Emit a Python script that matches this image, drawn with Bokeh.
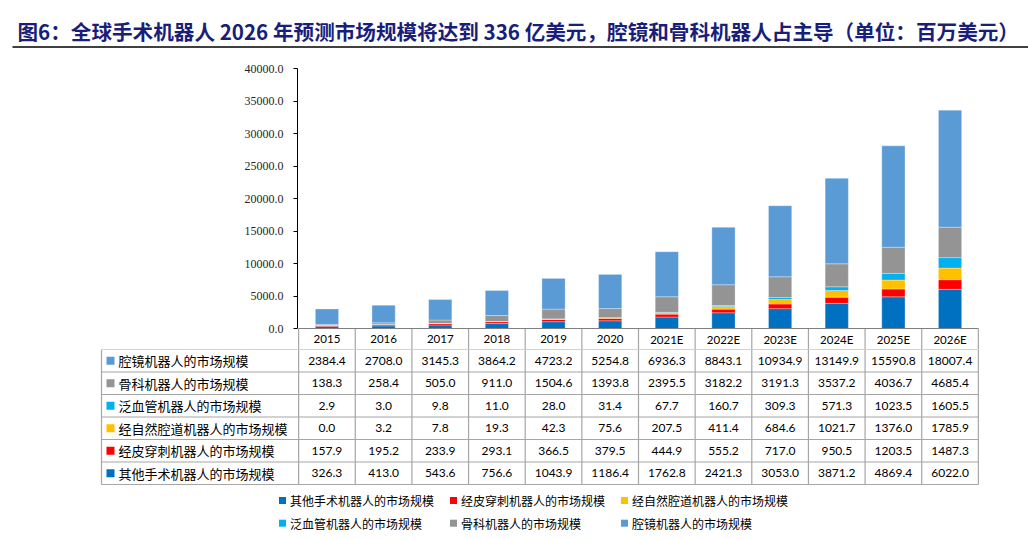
from bokeh.plotting import figure
from bokeh.models import Range1d, ColumnDataSource, FixedTicker, PrintfTickFormatter
from bokeh.layouts import column
from bokeh.core.properties import value
from bokeh.embed import file_html
from bokeh.resources import INLINE

# ---------------- data ----------------
title_text = "图6：全球手术机器人 2026 年预测市场规模将达到 336 亿美元，腔镜和骨科机器人占主导（单位：百万美元）"
years = ["2015", "2016", "2017", "2018", "2019", "2020", "2021E", "2022E", "2023E", "2024E", "2025E", "2026E"]
laparoscopic = [2384.4, 2708.0, 3145.3, 3864.2, 4723.2, 5254.8, 6936.3, 8843.1, 10934.9, 13149.9, 15590.8, 18007.4]
orthopedic = [138.3, 258.4, 505.0, 911.0, 1504.6, 1393.8, 2395.5, 3182.2, 3191.3, 3537.2, 4036.7, 4685.4]
vascular = [2.9, 3.0, 9.8, 11.0, 28.0, 31.4, 67.7, 160.7, 309.3, 571.3, 1023.5, 1605.5]
natural = [0.0, 3.2, 7.8, 19.3, 42.3, 75.6, 207.5, 411.4, 684.6, 1021.7, 1376.0, 1785.9]
percutaneous = [157.9, 195.2, 233.9, 293.1, 366.5, 379.5, 444.9, 555.2, 717.0, 950.5, 1203.5, 1487.3]
other = [326.3, 413.0, 543.6, 756.6, 1043.9, 1186.4, 1762.8, 2421.3, 3053.0, 3871.2, 4869.4, 6022.0]

series_names = ["其他手术机器人的市场规模", "经皮穿刺机器人的市场规模", "经自然腔道机器人的市场规模",
                "泛血管机器人的市场规模", "骨科机器人的市场规模", "腔镜机器人的市场规模"]
series_values = [other, percutaneous, natural, vascular, orthopedic, laparoscopic]
series_colors = ["#0070C0", "#FF0000", "#FFC000", "#00B0F0", "#949494", "#5B9BD5"]
y_ticks = [0, 5000, 10000, 15000, 20000, 25000, 30000, 35000, 40000]

# ---------------- layout constants ----------------
W = 1028
CJK = value("Noto Sans CJK SC")
NUMF = value("Lato")
GRID = "#A6A6A6"


def no_align(p):
    try:
        p.frame_align = False
    except Exception:
        pass


# ---------------- title figure ----------------
HT = 55
ft = figure(width=W, height=HT, x_range=Range1d(0, W), y_range=Range1d(HT, 0),
            output_backend="svg", toolbar_location=None,
            x_axis_location=None, y_axis_location=None, min_border=0)
no_align(ft)
ft.outline_line_color = None
ft.xgrid.visible = False
ft.ygrid.visible = False
ft.text(x=[17], y=[30], text=[title_text], text_font=CJK, text_font_style="bold",
        text_font_size="20.6px", text_color="#191E78", text_baseline="middle", text_align="left")
ft.segment(x0=[12], y0=[46.5], x1=[W], y1=[46.5], line_color="#000000", line_width=1.5)

# ---------------- main chart ----------------
ymax = 40000
yzero_px = 260.0        # frame px from top to zero line
header_px = 21.0
ymin = -ymax * header_px / yzero_px
ncat = len(years)

fm = figure(width=W, height=294, x_range=Range1d(-0.02, ncat + 0.02), y_range=Range1d(ymin, ymax),
            output_backend="svg", toolbar_location=None, x_axis_location=None,
            min_border_left=297, min_border_right=49, min_border_top=13, min_border_bottom=0)
no_align(fm)
fm.outline_line_color = None
fm.xgrid.visible = False
fm.ygrid.visible = False

xs = [i + 0.5 for i in range(ncat)]
data = {"x": xs, "year": years}
keys = []
for k, vals in enumerate(series_values):
    key = "s%d" % k
    data[key] = vals
    keys.append(key)
src = ColumnDataSource(data)
fm.vbar_stack(keys, x="x", width=0.41, source=src, color=series_colors,
              line_color="white", line_width=0.6, line_alpha=0.5)

ya = fm.yaxis[0]
ya.ticker = FixedTicker(ticks=y_ticks)
ya.formatter = PrintfTickFormatter(format="%.1f")
ya.bounds = (0, ymax)
ya.axis_line_color = "#000000"
ya.axis_line_width = 1
ya.major_tick_out = 4
ya.major_tick_in = 0
ya.minor_tick_line_color = None
ya.major_tick_line_color = "#000000"
ya.major_label_standoff = 10
ya.major_label_text_font = "Liberation Serif"
ya.major_label_text_font_size = "12px"
ya.major_label_text_color = "#262626"

# header row of the table (category labels)
bounds = list(range(ncat + 1))
fm.segment(x0=bounds, y0=[ymin] * len(bounds), x1=bounds, y1=[0] * len(bounds),
           line_color=GRID, line_width=1.2)
fm.segment(x0=[0], y0=[0], x1=[ncat], y1=[0], line_color="#7F7F7F", line_width=1.2)
fm.text(x="x", y=ymin / 2, text="year", source=src, text_font=NUMF, text_font_size="11.5px",
        text_color="#000000", text_align="center", text_baseline="middle")

# ---------------- data table + legend ----------------
H = 539 - HT - 294
fb = figure(width=W, height=H, x_range=Range1d(0, W), y_range=Range1d(H, 0),
            output_backend="svg", toolbar_location=None,
            x_axis_location=None, y_axis_location=None, min_border=0)
no_align(fb)
fb.outline_line_color = None
fb.xgrid.visible = False
fb.ygrid.visible = False

tab_left = 101
col0 = 297.0
colw = 682.0 / (ncat + 0.04)
row_h = 22.5
nrows = len(series_names)
col_start = col0 + 0.02 * colw
tab_right = col_start + ncat * colw

hy = [r * row_h for r in range(nrows + 1)]
fb.segment(x0=[tab_left] * len(hy), y0=hy, x1=[tab_right] * len(hy), y1=hy,
           line_color=GRID, line_width=1.2)
vx = [tab_left] + [col_start + k * colw for k in range(ncat + 1)]
fb.segment(x0=vx, y0=[0] * len(vx), x1=vx, y1=[nrows * row_h] * len(vx),
           line_color=GRID, line_width=1.2)

# rows: top row is the top of the stack
order = list(range(len(series_names)))[::-1]
for r, k in enumerate(order):
    yc = (r + 0.5) * row_h
    fb.scatter(x=[110], y=[yc], marker="square", size=8, color=series_colors[k], line_color=None)
    fb.text(x=[118], y=[yc], text=[series_names[k]], text_font=CJK, text_font_size="13px",
            text_color="#000000", text_align="left", text_baseline="middle")
    cx = [col_start + (i + 0.5) * colw for i in range(ncat)]
    fb.text(x=cx, y=[yc] * ncat, text=["%.1f" % v for v in series_values[k]], text_font=NUMF,
            text_font_size="12px", text_color="#000000", text_align="center", text_baseline="middle")

# legend
leg_x = [282, 453, 624]
leg_y = [151, 173.7]
for k, name in enumerate(series_names):
    lx = leg_x[k % 3]
    ly = leg_y[k // 3]
    fb.scatter(x=[lx], y=[ly], marker="square", size=7, color=series_colors[k], line_color=None)
    fb.text(x=[lx + 7.5], y=[ly], text=[name], text_font=CJK, text_font_size="12px",
            text_color="#000000", text_align="left", text_baseline="middle")

layout = column(ft, fm, fb, spacing=0)
open("out.html", "w").write(file_html(layout, INLINE))
